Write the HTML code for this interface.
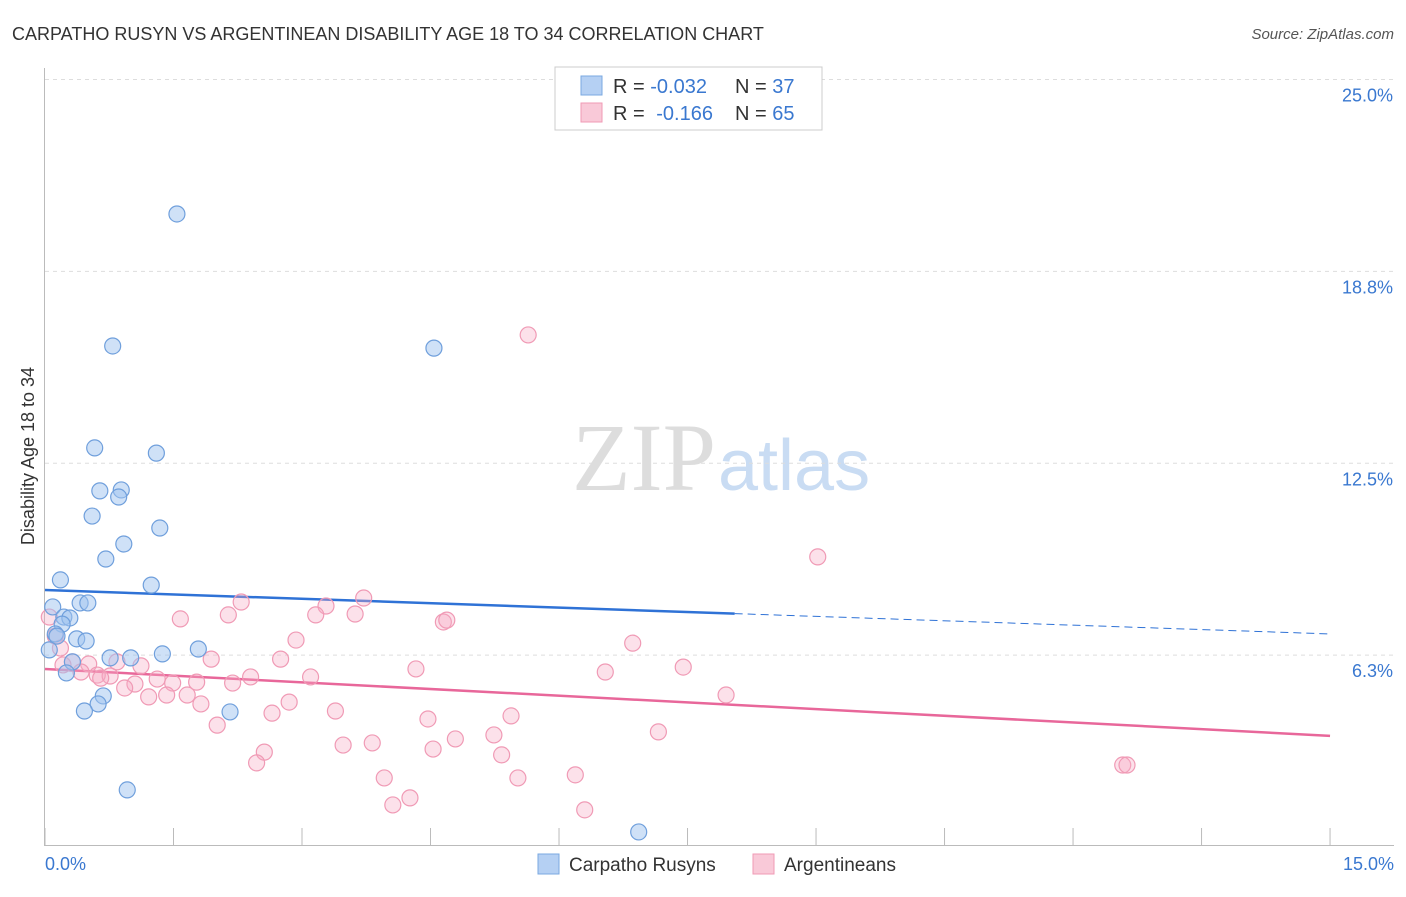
<!DOCTYPE html>
<html><head><meta charset="utf-8"><style>
body{margin:0;background:#fff;font-family:"Liberation Sans",sans-serif;}
svg text{font-family:"Liberation Sans",sans-serif;}
</style></head><body>
<svg id="chart" width="1406" height="892" xmlns="http://www.w3.org/2000/svg">
<text x="12" y="40" font-size="18" fill="#333">CARPATHO RUSYN VS ARGENTINEAN DISABILITY AGE 18 TO 34 CORRELATION CHART</text>
<text x="1394" y="39" font-size="15" fill="#555" font-style="italic" text-anchor="end">Source: ZipAtlas.com</text>
<text x="716" y="490" font-size="96" fill="#ddd" text-anchor="end" style="font-family:'Liberation Serif',serif">ZIP</text>
<text x="718" y="490" font-size="72" fill="#c9dcf3">atlas</text>
<g id="grid"></g><g id="axes"></g><g id="trends"></g><g id="points"></g>
<text transform="translate(34,456) rotate(-90)" font-size="18" fill="#333" text-anchor="middle">Disability Age 18 to 34</text>
<text x="45" y="870" font-size="18" fill="#3a78d0">0.0%</text>
<text x="1394" y="870" font-size="18" fill="#3a78d0" text-anchor="end">15.0%</text>
<g>
<rect x="555" y="67" width="267" height="63" fill="#fff" stroke="#ccc"/>
<rect x="581" y="76" width="21" height="19" fill="#b5d0f3" stroke="#7aa8e0"/>
<rect x="581" y="103" width="21" height="19" fill="#f9c9d8" stroke="#f09ab5"/>
<text x="613" y="93" font-size="20" fill="#333">R = <tspan fill="#3a78d0">-0.032</tspan><tspan x="735">N = </tspan><tspan fill="#3a78d0">37</tspan></text>
<text x="613" y="120" font-size="20" fill="#333">R = <tspan fill="#3a78d0" dx="6">-0.166</tspan><tspan x="735">N = </tspan><tspan fill="#3a78d0">65</tspan></text>
</g>
<g>
<rect x="538" y="854" width="21" height="20" fill="#b5d0f3" stroke="#7aa8e0"/>
<text x="569" y="871" font-size="19" fill="#333">Carpatho Rusyns</text>
<rect x="753" y="854" width="21" height="20" fill="#f9c9d8" stroke="#f09ab5"/>
<text x="784" y="871" font-size="19" fill="#333">Argentineans</text>
</g>
</svg>
<script>
const yTicks=[6.25,12.5,18.75,25];
const yTickLabels=["6.3%","12.5%","18.8%","25.0%"];
const xTicks=[0,1.5,3,4.5,6,7.5,9,10.5,12,13.5,15];
const blueX=[1.54,0.79,4.54,0.58,1.30,0.64,0.89,0.86,0.55,1.34,0.92,0.71,0.18,1.24,0.41,0.50,0.09,0.22,0.29,0.20,0.12,0.14,0.37,0.48,0.76,1.00,1.37,1.79,0.05,0.32,0.25,0.68,0.62,0.46,2.16,0.96,6.93];
const blueY=[20.62,16.32,16.25,13.0,12.83,11.60,11.63,11.40,10.78,10.39,9.87,9.38,8.70,8.53,7.95,7.95,7.82,7.49,7.46,7.26,6.94,6.87,6.78,6.71,6.16,6.16,6.29,6.45,6.42,6.03,5.67,4.92,4.66,4.43,4.40,1.86,0.49];
const pinkX=[5.64,9.02,3.72,2.29,3.28,1.58,2.14,3.16,3.62,4.65,4.69,2.93,6.86,0.05,0.12,0.18,0.32,0.51,0.84,1.12,1.94,2.75,4.33,6.54,7.45,0.21,0.42,0.61,0.76,0.65,1.05,1.31,1.49,1.77,2.19,2.40,3.10,0.93,1.21,1.42,1.66,1.82,2.85,7.95,2.65,3.39,4.47,5.44,2.01,7.16,2.56,3.48,3.82,4.79,4.53,5.24,5.33,2.47,3.96,5.52,6.19,12.58,12.63,4.06,4.26,6.30];
const pinkY=[16.68,9.45,8.11,7.98,7.85,7.43,7.56,7.56,7.59,7.33,7.39,6.74,6.64,7.49,6.87,6.48,6.03,5.96,6.03,5.90,6.12,6.12,5.80,5.70,5.86,5.93,5.70,5.60,5.57,5.50,5.31,5.47,5.34,5.37,5.34,5.54,5.54,5.18,4.89,4.95,4.95,4.66,4.72,4.95,4.36,4.43,4.17,4.27,3.97,3.75,3.09,3.32,3.39,3.52,3.19,3.65,3.00,2.74,2.25,2.25,2.35,2.67,2.67,1.37,1.60,1.21];
const blueTrend=[8.37,6.94], blueSolidEnd=8.05;
const pinkTrend=[5.80,3.62];
const xs=v=>45+v*85.67, ys=v=>847-v*30.7;
const NS="http://www.w3.org/2000/svg";
function mk(parent,tag,attrs){const e=document.createElementNS(NS,tag);for(const k in attrs)e.setAttribute(k,attrs[k]);document.getElementById(parent).appendChild(e);return e;}
yTicks.forEach((t,i)=>{
 const l=mk('grid','line',{x1:45,x2:1394,y1:ys(t),y2:ys(t),stroke:'#ddd','stroke-dasharray':'4,4'});
 
 
 const tx=mk('grid','text',{x:1393,y:ys(t)+22,'font-size':18,fill:'#3a78d0','text-anchor':'end'});
 tx.textContent=yTickLabels[i];
 
 
});
const ya=mk('axes','line',{x1:44.5,x2:44.5,y1:68,y2:846,stroke:'#bbb'});


const xa=mk('axes','line',{x1:44,x2:1394,y1:845.5,y2:845.5,stroke:'#bbb'});


xTicks.forEach(t=>{
 const l=mk('axes','line',{x1:xs(t),x2:xs(t),y1:828,y2:846,stroke:'#bbb'});
 
 
});
const lineY=(tr,x)=>tr[0]+(tr[1]-tr[0])*x/15;
const b1=mk('trends','line',{x1:xs(0),y1:ys(blueTrend[0]),x2:xs(blueSolidEnd),y2:ys(lineY(blueTrend,blueSolidEnd)),stroke:'#2f72d6','stroke-width':2.5});


const b2=mk('trends','line',{x1:xs(blueSolidEnd),y1:ys(lineY(blueTrend,blueSolidEnd)),x2:xs(15),y2:ys(blueTrend[1]),stroke:'#2f72d6','stroke-width':1,'stroke-dasharray':'8,5'});


const p1=mk('trends','line',{x1:xs(0),y1:ys(pinkTrend[0]),x2:xs(15),y2:ys(pinkTrend[1]),stroke:'#e8679a','stroke-width':2.5});


pinkX.forEach((x,i)=>{
 const c=mk('points','circle',{cx:xs(x),cy:ys(pinkY[i]),r:8,fill:'rgba(246,170,196,0.35)',stroke:'#f09ab5','stroke-width':1.2});
 
 
});
blueX.forEach((x,i)=>{
 const c=mk('points','circle',{cx:xs(x),cy:ys(blueY[i]),r:8,fill:'rgba(160,196,240,0.5)',stroke:'#6f9fdc','stroke-width':1.2});
 
 
});
</script>
</body></html>
